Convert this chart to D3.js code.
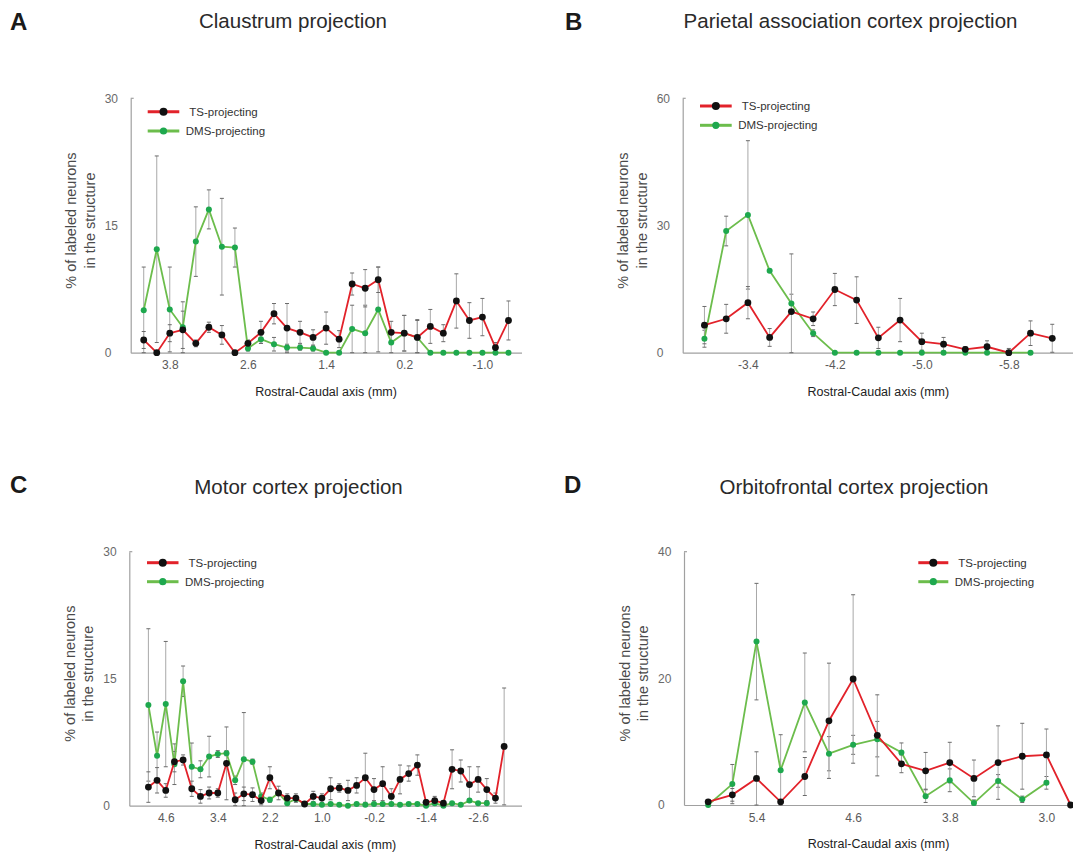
<!DOCTYPE html>
<html><head><meta charset="utf-8">
<script src="https://cdn.jsdelivr.net/npm/d3@7"></script>
<style>
body{margin:0;background:#fff}
svg{display:block}
text{font-family:"Liberation Sans",Arial,Helvetica,sans-serif}
</style>
</head><body>
<svg id="chart" width="1073" height="857"></svg>
<script>
// ---------- DATA ----------
const seriesNames = ["TS-projecting", "DMS-projecting"];
const yLabelLines = ["% of labeled neurons", "in the structure"];
const xAxisTitle = "Rostral-Caudal axis (mm)";

// Panel A: Claustrum
const A_title = "Claustrum projection";
const A_x = [4.2,4.0,3.8,3.6,3.4,3.2,3.0,2.8,2.6,2.4,2.2,2.0,1.8,1.6,1.4,1.2,1.0,0.8,0.6,0.4,0.2,0.0,-0.2,-0.4,-0.6,-0.8,-1.0,-1.2,-1.4];
const A_ts = [1.5,0,2.3,2.7,1.1,3.0,2.1,0,1.1,2.4,4.6,2.9,2.4,1.8,2.9,1.6,8.1,7.6,8.6,2.4,2.3,1.8,3.1,2.3,6.1,3.8,4.2,0.6,3.8];
const A_tsErr = [1.0,0,1.0,2.2,0.4,0.6,1.1,0,0.4,1.3,1.2,2.9,1.3,0.9,1.9,1.0,1.3,2.2,1.5,1.3,2.1,2.0,2.0,1.0,3.2,2.1,2.2,0.6,2.3];
const A_dms = [5.0,12.2,5.1,3.0,13.1,16.9,12.5,12.4,0.5,1.6,1.0,0.6,0.6,0.5,0,0,2.8,2.3,5.1,1.2,2.3,1.8,0,0,0,0,0,0,0];
const A_dmsErr = [5.1,11.0,5.0,3.0,4.1,2.3,5.7,2.3,0.3,0.5,0.8,0.4,0.3,0.3,0,0,2.8,3.3,5.0,1.2,2.1,2.1,0,0,0,0,0,0,0];
const A_xTicks = [3.8,2.6,1.4,0.2,-1.0];
const A_yTicks = [0,15,30];

// Panel B: Parietal association cortex
const B_title = "Parietal association cortex projection";
const B_x = [-3.0,-3.2,-3.4,-3.6,-3.8,-4.0,-4.2,-4.4,-4.6,-4.8,-5.0,-5.2,-5.4,-5.6,-5.8,-6.0,-6.2];
const B_ts = [6.5,8.0,11.8,3.6,9.7,8.0,14.9,12.4,3.5,7.7,2.6,2.0,0.8,1.4,0,4.6,3.4];
const B_tsErr = [4.4,3.4,3.8,2.1,13.6,1.6,3.8,5.5,2.5,5.1,2.0,1.6,0.6,1.4,1.0,2.9,3.3];
const B_dms = [3.3,28.7,32.5,19.3,11.6,4.6,0,0,0,0,0,0,0,0,0,0];
const B_dmsErr = [2.0,3.5,17.5,0,2.2,0.8,0,0,0,0,0,0,0,0,0,0];
const B_xTicks = [-3.4,-4.2,-5.0,-5.8];
const B_yTicks = [0,30,60];

// Panel C: Motor cortex
const C_title = "Motor cortex projection";
const C_x = [5.0,4.8,4.6,4.4,4.2,4.0,3.8,3.6,3.4,3.2,3.0,2.8,2.6,2.4,2.2,2.0,1.8,1.6,1.4,1.2,1.0,0.8,0.6,0.4,0.2,0.0,-0.2,-0.4,-0.6,-0.8,-1.0,-1.2,-1.4,-1.6,-1.8,-2.0,-2.2,-2.4,-2.6,-2.8,-3.0,-3.2];
const C_ts = [2.2,3.0,1.8,5.2,5.4,2.0,1.1,1.5,1.5,5.0,0.7,1.4,1.3,0.6,3.3,1.5,0.9,0.9,0.2,1.1,0.9,2.0,2.1,1.8,2.4,3.3,1.9,2.6,1.1,3.1,3.8,4.8,0.4,0.6,0.3,4.3,4.1,2.5,3.1,1.9,0.9,7.0];
const C_tsErr = [1.8,1.5,0.8,1.2,0.6,0.9,0.8,0.7,0.5,4.3,0.8,0.8,0.8,0.5,1.3,0.8,0.5,0.5,0.2,0.6,0.5,1.3,0.5,1.2,0.9,2.9,1.3,2.0,0.9,1.7,0.9,1.2,0.3,0.5,0.2,2.3,1.3,2.1,1.5,1.3,0.6,6.9];
const C_dms = [11.9,5.9,12.0,4.9,14.7,4.6,4.3,5.8,6.1,6.2,3.0,5.5,5.2,1.1,0.7,1.5,0.3,0.8,0.2,0.2,0.1,0.2,0.1,0.0,0.2,0.1,0.2,0.2,0.2,0.1,0.2,0.2,0.0,0.3,0.0,0.3,0.1,0.6,0.3,0.3];
const C_dmsErr = [9.0,2.8,7.4,2.4,1.8,2.8,1.0,2.4,0.4,0.3,0.5,5.5,0.3,0.4,0.3,0.3,0.2,0.2,0.1,0.1,0.1,0.1,0.1,0.1,0.1,0.1,0.1,0.1,0.1,0.1,0.1,0.1,0.1,0.1,0.1,0.1,0.1,0.2,0.1,0.1];
const C_xTicks = [4.6,3.4,2.2,1.0,-0.2,-1.4,-2.6];
const C_yTicks = [0,15,30];

// Panel D: Orbitofrontal cortex
const D_title = "Orbitofrontal cortex projection";
const D_x = [5.8,5.6,5.4,5.2,5.0,4.8,4.6,4.4,4.2,4.0,3.8,3.6,3.4,3.2,3.0,2.8];
const D_ts = [0.5,1.6,4.2,0.5,4.5,13.3,19.9,11.0,6.5,5.4,6.7,4.2,6.7,7.7,7.9,0];
const D_tsErr = [0.3,1.0,4.2,0.3,3.0,9.1,13.3,6.4,1.4,2.9,3.2,2.9,5.8,5.2,4.1,0];
const D_dms = [0,3.3,25.8,5.5,16.2,8.1,9.5,10.4,8.3,1.4,3.9,0.3,3.8,0.9,3.5];
const D_dmsErr = [0,3.1,9.2,5.6,7.8,2.7,1.5,2.8,1.5,1.0,1.8,0.5,1.0,0.5,1.0];
const D_xTicks = [5.4,4.6,3.8,3.0];
const D_yTicks = [0,20,40];

// ---------- STYLE ----------
const RED = "#e2222a", GREEN_LINE = "#6cbd4c", GREEN_DOT = "#1ea84e", BLACK = "#111111";
const ERR = "#a8a8a8", CAP = "#6a6a6a", AXIS = "#a0a0a0";

const svg = d3.select("#chart");

function drawPanel(p) {
  const g = svg.append("g");
  const x = d3.scaleLinear().domain(p.xDomain).range(p.xRange);
  const y = d3.scaleLinear().domain([0, d3.max(p.yTicks)]).range(p.yRange);
  const ax = p.xRange[0];

  // panel letter
  g.append("text").attr("x", p.letterX).attr("y", p.letterY)
    .attr("font-size", 24).attr("font-weight", "bold").attr("fill", "#1a1a1a").text(p.letter);
  // title
  g.append("text").attr("x", p.titleX).attr("y", p.titleY).attr("text-anchor", "middle")
    .attr("font-size", 20.5).attr("fill", "#2a2a2a").text(p.title);

  // x axis
  const xa = g.append("g").attr("transform", `translate(0,${p.yRange[0]})`)
    .call(d3.axisBottom(x).tickValues(p.xTicks).tickSize(0).tickPadding(8).tickFormat(d => d.toFixed(1)));
  xa.select(".domain").attr("stroke", AXIS).attr("stroke-width", 1.2);
  xa.selectAll("text").attr("font-size", 12).attr("fill", "#5a5a5a")
    .attr("font-family", '"Liberation Sans",Arial,sans-serif');

  // y axis
  const ya = g.append("g").attr("transform", `translate(${ax},0)`)
    .call(d3.axisLeft(y).tickValues(p.yTicks).tickSize(0).tickFormat(d3.format("d")));
  ya.select(".domain").attr("stroke", AXIS).attr("stroke-width", 1.2);
  ya.selectAll("text").attr("font-size", 12).attr("fill", "#6a6a6a")
    .attr("text-anchor", "start").attr("x", -26)
    .attr("font-family", '"Liberation Sans",Arial,sans-serif');
  g.append("line").attr("x1", ax).attr("x2", ax + 3).attr("y1", y(d3.max(p.yTicks))).attr("y2", y(d3.max(p.yTicks)))
    .attr("stroke", AXIS).attr("stroke-width", 1.2);

  // axis titles
  const yc = (p.yRange[0] + p.yRange[1]) / 2 - 5;
  yLabelLines.forEach((t, i) => {
    g.append("text").attr("transform", `translate(${ax - 59.5 + i * 18.5},${yc}) rotate(-90)`)
      .attr("text-anchor", "middle").attr("dy", "0.35em").attr("font-size", 14.5).attr("fill", "#4a4a4a").text(t);
  });
  g.append("text").attr("x", (p.xRange[0] + p.xRange[1]) / 2).attr("y", p.yRange[0] + 43)
    .attr("text-anchor", "middle").attr("font-size", 12.5).attr("fill", "#222").text(xAxisTitle);

  const tsData = p.ts.map((v, i) => ({ x: p.xs[i], v, e: p.tsErr[i] }));
  const dmsData = p.dms.map((v, i) => ({ x: p.xs[i], v, e: p.dmsErr[i] }));

  // error bars (lower whisker stops at the axis)
  const eg = g.append("g");
  [...dmsData, ...tsData].filter(d => d.e > 0).forEach(d => {
    const cx = x(d.x), t = y(d.v + d.e), b = y(Math.max(0, d.v - d.e));
    eg.append("line").attr("x1", cx).attr("x2", cx).attr("y1", t).attr("y2", b).attr("stroke", ERR).attr("stroke-width", 1);
    eg.append("line").attr("x1", cx - 2).attr("x2", cx + 2).attr("y1", t).attr("y2", t).attr("stroke", CAP).attr("stroke-width", 1);
    eg.append("line").attr("x1", cx - 2).attr("x2", cx + 2).attr("y1", b).attr("y2", b).attr("stroke", CAP).attr("stroke-width", 1);
  });

  const line = d3.line().x(d => x(d.x)).y(d => y(d.v));
  // DMS series
  g.append("path").datum(dmsData).attr("d", line).attr("fill", "none").attr("stroke", GREEN_LINE).attr("stroke-width", 1.8);
  g.selectAll(null).data(dmsData).enter().append("circle")
    .attr("cx", d => x(d.x)).attr("cy", d => y(d.v)).attr("r", 3).attr("fill", GREEN_DOT);
  // TS series
  g.append("path").datum(tsData).attr("d", line).attr("fill", "none").attr("stroke", RED).attr("stroke-width", 1.8);
  g.selectAll(null).data(tsData).enter().append("circle")
    .attr("cx", d => x(d.x)).attr("cy", d => y(d.v)).attr("r", 3.4).attr("fill", BLACK);

  // legend
  const L = p.legend;
  const lx = (L.x1 + L.x2) / 2;
  g.append("line").attr("x1", L.x1).attr("x2", L.x2).attr("y1", L.y1).attr("y2", L.y1).attr("stroke", RED).attr("stroke-width", 3);
  g.append("circle").attr("cx", lx).attr("cy", L.y1).attr("r", 4).attr("fill", BLACK);
  g.append("text").attr("x", L.x2 + 10).attr("y", L.y1).attr("dy", "0.35em").attr("font-size", 11.5).attr("fill", "#333").text(seriesNames[0]);
  g.append("line").attr("x1", L.x1).attr("x2", L.x2).attr("y1", L.y2).attr("y2", L.y2).attr("stroke", GREEN_LINE).attr("stroke-width", 3);
  g.append("circle").attr("cx", lx).attr("cy", L.y2).attr("r", 3.6).attr("fill", GREEN_DOT);
  g.append("text").attr("x", L.x2 + 6.5).attr("y", L.y2).attr("dy", "0.35em").attr("font-size", 11.5).attr("fill", "#333").text(seriesNames[1]);
}

drawPanel({ letter: "A", letterX: 10, letterY: 29.5, title: A_title, titleX: 293, titleY: 28,
  xs: A_x, ts: A_ts, tsErr: A_tsErr, dms: A_dms, dmsErr: A_dmsErr, xTicks: A_xTicks, yTicks: A_yTicks,
  xDomain: [4.4, -1.6], xRange: [130.7, 521.5], yRange: [352.7, 98.3],
  legend: { x1: 147.7, x2: 179.3, y1: 111.7, y2: 131 } });

drawPanel({ letter: "B", letterX: 565, letterY: 29.5, title: B_title, titleX: 850.5, titleY: 28,
  xs: B_x, ts: B_ts, tsErr: B_tsErr, dms: B_dms, dmsErr: B_dmsErr, xTicks: B_xTicks, yTicks: B_yTicks,
  xDomain: [-2.8, -6.4], xRange: [682.7, 1074], yRange: [352.7, 98.3],
  legend: { x1: 700, x2: 731.7, y1: 106, y2: 125.3 } });

drawPanel({ letter: "C", letterX: 10, letterY: 493, title: C_title, titleX: 298.5, titleY: 494,
  xs: C_x, ts: C_ts, tsErr: C_tsErr, dms: C_dms, dmsErr: C_dmsErr, xTicks: C_xTicks, yTicks: C_yTicks,
  xDomain: [5.44, -3.6], xRange: [129.3, 521.5], yRange: [805.7, 551.7],
  legend: { x1: 147, x2: 178.5, y1: 562.7, y2: 581.7 } });

drawPanel({ letter: "D", letterX: 564, letterY: 493, title: D_title, titleX: 854, titleY: 494,
  xs: D_x, ts: D_ts, tsErr: D_tsErr, dms: D_dms, dmsErr: D_dmsErr, xTicks: D_xTicks, yTicks: D_yTicks,
  xDomain: [6.0, 2.78], xRange: [684, 1073], yRange: [805, 551.7],
  legend: { x1: 918.3, x2: 948.3, y1: 562.7, y2: 581.7 } });
</script>
</body></html>
